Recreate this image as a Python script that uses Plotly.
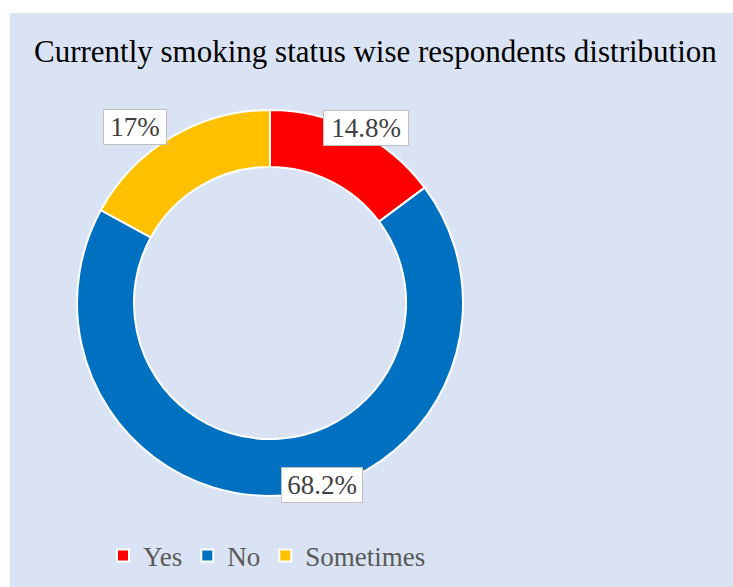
import math
import plotly.graph_objects as go

labels = ["Yes", "No", "Sometimes"]
values = [14.8, 68.2, 17]
text_labels = ["14.8%", "68.2%", "17%"]
colors = ["#FF0000", "#0070C0", "#FFC000"]

W, H = 733, 587
cx, cy, R = 270, 303, 193  # pie center/radius in pixels

def px(x):
    return x / W

def py(y):
    return 1 - y / H

fig = go.Figure()
fig.add_trace(go.Pie(
    labels=labels, values=values, sort=False, direction="clockwise", rotation=0,
    hole=0.705, textinfo="none", hoverinfo="label+percent",
    marker=dict(colors=colors, line=dict(color="white", width=2)),
    domain=dict(x=[px(cx - R), px(cx + R)], y=[py(cy + R), py(cy - R)]),
))

# data label placement: slice mid angle, radius and angle nudges (Excel-like manual placement)
label_radius = [200, 189, 222]
label_angle_shift = [2.1, -12.0, -6.9]
label_box_w = [82, 78, 60]
total = sum(values)
cum = 0
annotations = []
for lab, v, r, sh, bw in zip(text_labels, values, label_radius, label_angle_shift, label_box_w):
    mid = (cum + v / 2) / total * 360 + sh
    cum += v
    a = math.radians(mid)
    x = cx + r * math.sin(a)
    y = cy - r * math.cos(a)
    annotations.append(dict(
        x=px(x), y=py(y), xref="paper", yref="paper", text=lab, showarrow=False,
        font=dict(family="Liberation Serif", size=27, color="#404040"),
        bgcolor="white", bordercolor="#BFBFBF", borderwidth=1, borderpad=1,
        width=bw, height=32, align="center",
        xanchor="center", yanchor="middle",
    ))

annotations.append(dict(
    x=px(32), y=py(52), xref="paper", yref="paper", xanchor="left", yanchor="middle",
    text="Currently smoking status wise respondents distribution", showarrow=False,
    font=dict(family="Liberation Serif", size=31, color="#000000"),
))

fig.update_layout(
    width=W, height=H, margin=dict(l=0, r=0, t=0, b=0),
    paper_bgcolor="white",
    shapes=[dict(type="rect", xref="paper", yref="paper", x0=px(10), x1=1, y0=0, y1=py(13),
                 fillcolor="#DAE3F3", line=dict(width=0), layer="below")],
    annotations=annotations,
    showlegend=True,
    legend=dict(orientation="h", x=px(103), y=py(556), xanchor="left", yanchor="middle",
                font=dict(family="Liberation Serif", size=27, color="#595959"),
                bgcolor="rgba(0,0,0,0)", itemclick=False, tracegroupgap=0),
)

fig.write_html("out.html", config={"displayModeBar": False},
               post_script="document.body.style.margin='0';document.body.style.overflow='hidden';")
